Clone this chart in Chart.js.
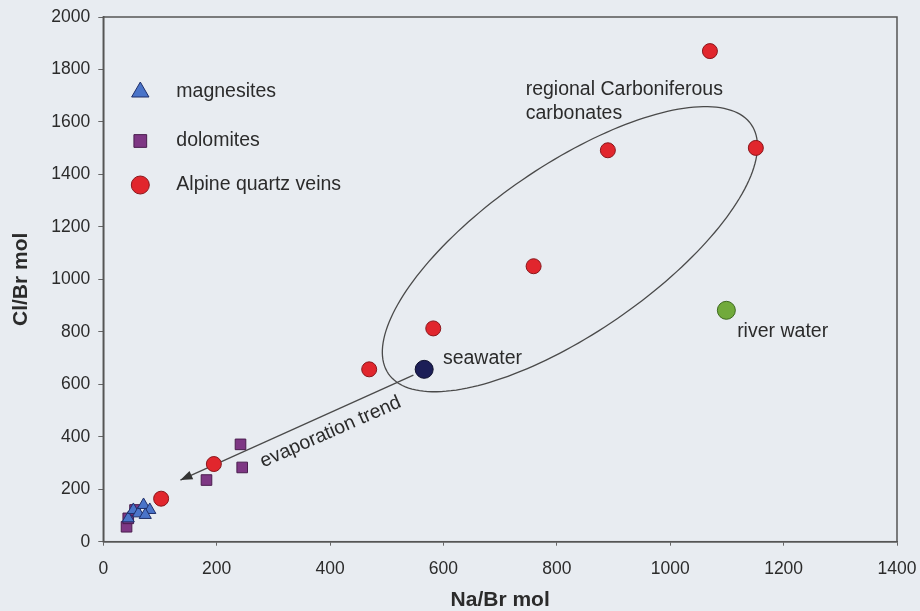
<!DOCTYPE html>
<html>
<head>
<meta charset="utf-8">
<script src="https://cdn.jsdelivr.net/npm/chart.js@4.4.0/dist/chart.umd.min.js"></script>
<style>
  html, body { margin: 0; padding: 0; background: #e8ecf1; }
  #wrap { width: 920px; height: 611px; }
</style>
</head>
<body>
<div id="wrap"><canvas id="fluidChart" width="920" height="611"></canvas></div>
<script>
// Na/Br vs Cl/Br (molar) of the fluid inclusions
const magnesitesNaBr = [44, 53, 62, 71, 82, 74];
const magnesitesClBr = [89, 121, 108, 140, 121, 102];
const dolomitesNaBr = [41, 44, 56, 182, 242, 245];
const dolomitesClBr = [57, 89, 121, 235, 371, 283];
const quartzNaBr = [102, 195, 469, 582, 759, 890, 1151, 1070];
const quartzClBr = [164, 296, 657, 813, 1050, 1492, 1501, 1870];
const seawaterNaBr = [566];
const seawaterClBr = [657];
const riverNaBr = [1099];
const riverClBr = [882];

// evaporation trend arrow (from, to) and the carbonate field ellipse, in axis units
const evapFrom = [547, 635];
const evapTo = [136, 235];
const fieldCenter = [823, 1115];
const fieldAxisA = [320, 475];
const fieldAxisB = [84, -264];

const xTicks = [0, 200, 400, 600, 800, 1000, 1200, 1400];
const yTicks = [0, 200, 400, 600, 800, 1000, 1200, 1400, 1600, 1800, 2000];

const FONT = '"Liberation Sans", Arial, sans-serif';
const TXT = '#2b2b2b';

function pts(xs, ys) {
    return xs.map((x, i) => ({ x: x, y: ys[i] }));
}

// labels written on the plot
const notes = [
    { text: 'regional Carboniferous', x: 745, y: 1722, rot: 0 },
    { text: 'carbonates', x: 745, y: 1631, rot: 0 },
    { text: 'seawater', x: 599, y: 696, rot: 0 },
    { text: 'river water', x: 1118, y: 799, rot: 0 },
    { text: 'evaporation trend', x: 401, y: 418, rot: -23.7, center: true }
];

const bgPlugin = {
    id: 'bg',
    beforeDraw(chart) {
        const ctx = chart.ctx;
        ctx.save();
        ctx.fillStyle = '#e8ecf1';
        ctx.fillRect(0, 0, chart.width, chart.height);
        ctx.restore();
    }
};

const shapesPlugin = {
    id: 'shapes',
    beforeDatasetsDraw(chart) {
        const ctx = chart.ctx, sx = chart.scales.x, sy = chart.scales.y;
        ctx.save();
        ctx.strokeStyle = '#4a4a4a';
        ctx.lineWidth = 1.3;
        // ellipse
        ctx.beginPath();
        for (let i = 0; i <= 180; i++) {
            const t = i / 180 * Math.PI * 2;
            const vx = fieldCenter[0] + fieldAxisA[0] * Math.cos(t) + fieldAxisB[0] * Math.sin(t);
            const vy = fieldCenter[1] + fieldAxisA[1] * Math.cos(t) + fieldAxisB[1] * Math.sin(t);
            const px = sx.getPixelForValue(vx), py = sy.getPixelForValue(vy);
            if (i === 0) ctx.moveTo(px, py); else ctx.lineTo(px, py);
        }
        ctx.closePath();
        ctx.stroke();
        // arrow
        const x1 = sx.getPixelForValue(evapFrom[0]), y1 = sy.getPixelForValue(evapFrom[1]);
        const x2 = sx.getPixelForValue(evapTo[0]), y2 = sy.getPixelForValue(evapTo[1]);
        ctx.beginPath();
        ctx.moveTo(x1, y1);
        ctx.lineTo(x2, y2);
        ctx.stroke();
        const ang = Math.atan2(y2 - y1, x2 - x1);
        ctx.fillStyle = '#333';
        ctx.beginPath();
        ctx.moveTo(x2, y2);
        ctx.lineTo(x2 - 12 * Math.cos(ang) + 4.5 * Math.sin(ang), y2 - 12 * Math.sin(ang) - 4.5 * Math.cos(ang));
        ctx.lineTo(x2 - 12 * Math.cos(ang) - 4.5 * Math.sin(ang), y2 - 12 * Math.sin(ang) + 4.5 * Math.cos(ang));
        ctx.closePath();
        ctx.fill();
        ctx.restore();
    },
    afterDatasetsDraw(chart) {
        const ctx = chart.ctx, sx = chart.scales.x, sy = chart.scales.y, area = chart.chartArea;
        ctx.save();
        // frame round the plot
        ctx.strokeStyle = '#555';
        ctx.lineWidth = 1.5;
        ctx.strokeRect(area.left, area.top, area.right - area.left, area.bottom - area.top);
        // notes
        ctx.font = '19.5px ' + FONT;
        ctx.fillStyle = TXT;
        ctx.textBaseline = 'middle';
        notes.forEach(n => {
            ctx.save();
            ctx.translate(sx.getPixelForValue(n.x), sy.getPixelForValue(n.y));
            ctx.rotate(n.rot * Math.PI / 180);
            ctx.textAlign = n.center ? 'center' : 'left';
            ctx.fillText(n.text, 0, 0);
            ctx.restore();
        });
        // legend inside the plot
        const rows = [75, 124, 168];
        chart.data.datasets.slice(0, 3).forEach((ds, i) => {
            const y = area.top + rows[i];
            ctx.fillStyle = ds.backgroundColor;
            ctx.strokeStyle = ds.borderColor;
            ctx.lineWidth = 1;
            Chart.helpers.drawPoint(ctx, {
                pointStyle: ds.pointStyle, radius: ds.legendRadius, rotation: 0, borderWidth: 1
            }, area.left + 37, y);
            ctx.fillStyle = TXT;
            ctx.textAlign = 'left';
            ctx.fillText(ds.label, area.left + 73, y);
        });
        ctx.restore();
    }
};

function createGraph() {
    const ctx = document.getElementById('fluidChart').getContext('2d');
    new Chart(ctx, {
        type: 'scatter',
        data: {
            datasets: [{
                label: 'magnesites',
                data: pts(magnesitesNaBr, magnesitesClBr),
                pointStyle: 'triangle',
                pointRadius: 7,
                legendRadius: 10,
                backgroundColor: '#4a74c9',
                borderColor: '#1f2f6a',
                borderWidth: 1
            }, {
                label: 'dolomites',
                data: pts(dolomitesNaBr, dolomitesClBr),
                pointStyle: 'rect',
                pointRadius: 7.5,
                legendRadius: 9,
                backgroundColor: '#7e3784',
                borderColor: '#4a1d4e',
                borderWidth: 1
            }, {
                label: 'Alpine quartz veins',
                data: pts(quartzNaBr, quartzClBr),
                pointStyle: 'circle',
                pointRadius: 7.5,
                legendRadius: 9,
                backgroundColor: '#e1262d',
                borderColor: '#8a171c',
                borderWidth: 1
            }, {
                label: 'seawater',
                data: pts(seawaterNaBr, seawaterClBr),
                pointStyle: 'circle',
                pointRadius: 9,
                backgroundColor: '#1c1e57',
                borderColor: '#10112f',
                borderWidth: 1
            }, {
                label: 'river water',
                data: pts(riverNaBr, riverClBr),
                pointStyle: 'circle',
                pointRadius: 9,
                backgroundColor: '#71aa3b',
                borderColor: '#3f6a20',
                borderWidth: 1
            }]
        },
        options: {
            responsive: false,
            animation: false,
            layout: { padding: { left: 0, top: 17, right: 23, bottom: 0 } },
            scales: {
                x: {
                    type: 'linear',
                    min: 0,
                    max: 1400,
                    afterBuildTicks: s => { s.ticks = xTicks.map(v => ({ value: v })); },
                    afterFit: s => { s.height = 69.3; s.paddingLeft = 0; s.paddingRight = 0; },
                    border: { color: '#555', width: 1.5 },
                    grid: { drawOnChartArea: false, tickLength: 4, color: '#666' },
                    ticks: {
                        color: TXT, padding: 13, maxRotation: 0,
                        font: { family: FONT, size: 17.5 },
                        callback: v => String(v)
                    },
                    title: {
                        display: true, text: 'Na/Br mol', color: TXT, padding: 0,
                        font: { family: FONT, size: 21, weight: 'bold', lineHeight: 1 }
                    }
                },
                y: {
                    type: 'linear',
                    min: 0,
                    max: 2000,
                    afterBuildTicks: s => { s.ticks = yTicks.map(v => ({ value: v })); },
                    afterFit: s => { s.width = 103.3; s.paddingTop = 0; s.paddingBottom = 0; },
                    border: { color: '#555', width: 1.5 },
                    grid: { drawOnChartArea: false, tickLength: 5, color: '#666' },
                    ticks: {
                        color: TXT, padding: 8,
                        font: { family: FONT, size: 17.5 },
                        callback: v => String(v)
                    },
                    title: {
                        display: true, text: 'Cl/Br mol', color: TXT, padding: { top: 11, bottom: 0 },
                        font: { family: FONT, size: 21, weight: 'bold', lineHeight: 1 }
                    }
                }
            },
            plugins: {
                legend: { display: false },
                tooltip: { enabled: false }
            }
        },
        plugins: [bgPlugin, shapesPlugin]
    });
}

window.onload = function() {
    createGraph();
};
</script>
</body>
</html>
